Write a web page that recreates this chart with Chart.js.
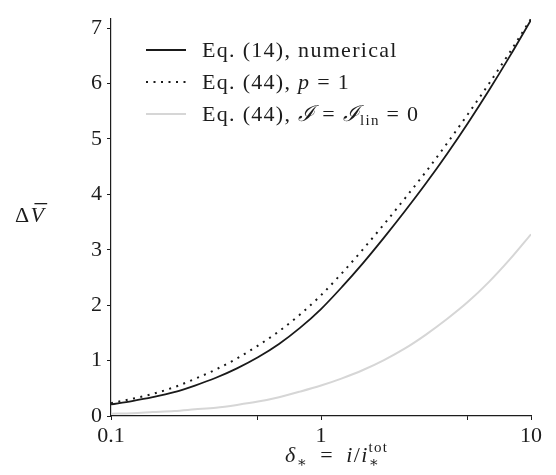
<!DOCTYPE html>
<html>
<head>
<meta charset="utf-8">
<script src="https://cdn.jsdelivr.net/npm/chart.js@4"></script>
<style>
  html, body { margin: 0; padding: 0; background: #fff; }
  #wrap { position: relative; width: 556px; height: 475px; }
</style>
</head>
<body>
<div id="wrap"><canvas id="c" width="556" height="475"></canvas></div>
<script>
// ── data ──
const deltaStar = [0.1, 0.126, 0.158, 0.2, 0.251, 0.316, 0.398, 0.501, 0.631, 0.794, 1, 1.259, 1.585, 1.995, 2.512, 3.162, 3.981, 5.012, 6.31, 7.943, 10];
const eq14Numerical = [0.21, 0.27, 0.34, 0.43, 0.55, 0.69, 0.86, 1.06, 1.30, 1.59, 1.93, 2.33, 2.76, 3.22, 3.70, 4.20, 4.73, 5.29, 5.88, 6.50, 7.15];
const eq44P1 = [0.23, 0.31, 0.40, 0.52, 0.67, 0.84, 1.04, 1.27, 1.53, 1.83, 2.18, 2.58, 3.01, 3.46, 3.93, 4.41, 4.92, 5.45, 6.00, 6.57, 7.17];
const eq44Lin0 = [0.04, 0.05, 0.07, 0.09, 0.12, 0.15, 0.20, 0.26, 0.34, 0.44, 0.55, 0.68, 0.83, 1.01, 1.22, 1.47, 1.75, 2.06, 2.42, 2.83, 3.28];

const seriesLabels = ['Eq. (14), numerical', 'Eq. (44), p = 1', 'Eq. (44), I = I_lin = 0'];
const xTickMarks = [0.1, 0.5, 1, 5, 10];
const xTickLabels = [0.1, 1, 10];
const yTickLabels = [0, 1, 2, 3, 4, 5, 6, 7];

const SERIF = "'Liberation Serif', 'DejaVu Serif', serif";
const INK = '#1c1c1c';

const pts = (ys) => deltaStar.map((x, i) => ({ x, y: ys[i] }));

// mixed upright / italic text, with sub- and superscripts
function drawRich(ctx, x, y, parts) {
  let cx = x, lastX = x;
  parts.forEach(p => {
    const size = p.s || 22;
    ctx.font = `${p.it ? 'italic ' : ''}${size}px ${SERIF}`;
    const w = ctx.measureText(p.t).width;
    const px = p.stack ? lastX : cx;
    ctx.fillText(p.t, px, y + (p.dy || 0));
    if (p.bar) ctx.fillRect(px + 4, y - 19, w - 2, 1.3);
    if (p.stack) { cx = Math.max(cx, lastX + w); }
    else { lastX = cx; cx += w; }
  });
  return cx;
}

const annotations = {
  id: 'annotations',
  afterDraw(chart) {
    const ctx = chart.ctx;
    const ds = chart.data.datasets;
    ctx.save();
    ctx.fillStyle = INK;
    ctx.textBaseline = 'alphabetic';
    ctx.textAlign = 'left';
    ctx.letterSpacing = '1.3px';

    // legend
    const rows = [
      { y: 50, parts: [{ t: 'Eq. (14), numerical' }] },
      { y: 82, parts: [{ t: 'Eq. (44), ' }, { t: 'p', it: true }, { t: ' = 1' }] },
      { y: 114, parts: [{ t: 'Eq. (44), ' }, { t: 'ℐ', it: true }, { t: ' = ' }, { t: 'ℐ', it: true }, { t: 'lin', s: 15, dy: 4 }, { t: ' = 0' }] },
    ];
    rows.forEach((r, i) => {
      const d = ds[i];
      ctx.save();
      ctx.strokeStyle = d.borderColor;
      ctx.lineWidth = d.borderWidth;
      ctx.setLineDash(d.borderDash || []);
      ctx.beginPath(); ctx.moveTo(146, r.y); ctx.lineTo(186, r.y); ctx.stroke();
      ctx.restore();
      drawRich(ctx, 202, r.y + 7, r.parts);
    });

    // axis titles
    drawRich(ctx, 15, 222, [{ t: 'Δ' }, { t: 'V', it: true, bar: true }]);
    drawRich(ctx, 285, 462, [
      { t: 'δ', it: true }, { t: '∗', s: 15, dy: 5 }, { t: '\u2002=\u2002' },
      { t: 'i', it: true }, { t: '/' }, { t: 'i', it: true },
      { t: 'tot', s: 15, dy: -10 }, { t: '∗', s: 15, dy: 5, stack: true },
    ]);
    ctx.restore();
  }
};

new Chart(document.getElementById('c'), {
  type: 'line',
  data: {
    datasets: [
      { label: seriesLabels[0], data: pts(eq14Numerical), borderColor: '#1a1a1a', borderWidth: 1.8, pointRadius: 0, cubicInterpolationMode: 'monotone' },
      { label: seriesLabels[1], data: pts(eq44P1), borderColor: '#1a1a1a', borderWidth: 2, borderDash: [2, 5.5], pointRadius: 0, cubicInterpolationMode: 'monotone' },
      { label: seriesLabels[2], data: pts(eq44Lin0), borderColor: '#d6d6d6', borderWidth: 2, pointRadius: 0, cubicInterpolationMode: 'monotone' },
    ]
  },
  options: {
    responsive: false,
    animation: false,
    layout: { padding: { top: 7, right: 25, left: 0, bottom: 0 } },
    plugins: { legend: { display: false }, tooltip: { enabled: false } },
    scales: {
      x: {
        type: 'logarithmic', min: 0.1, max: 10,
        afterBuildTicks: (s) => { s.ticks = xTickMarks.map(v => ({ value: v })); },
        afterFit: (s) => { s.height = 59; },
        ticks: {
          autoSkip: false, maxRotation: 0, padding: 3, color: INK,
          font: { family: SERIF, size: 22 },
          callback: (v) => xTickLabels.includes(v) ? String(v) : '',
        },
        grid: { drawOnChartArea: false, drawTicks: true, tickLength: 4, color: INK },
        border: { color: INK, width: 1.2 },
      },
      y: {
        min: 0, max: 7.18,
        afterFit: (s) => { s.width = 111; },
        ticks: {
          stepSize: 0.5, includeBounds: false, padding: 5, color: INK,
          font: { family: SERIF, size: 22 },
          callback: (v) => yTickLabels.includes(v) ? String(v) : '',
        },
        grid: { drawOnChartArea: false, drawTicks: true, tickLength: 4, color: INK },
        border: { color: INK, width: 1.2 },
      }
    }
  },
  plugins: [annotations]
});
</script>
</body>
</html>
